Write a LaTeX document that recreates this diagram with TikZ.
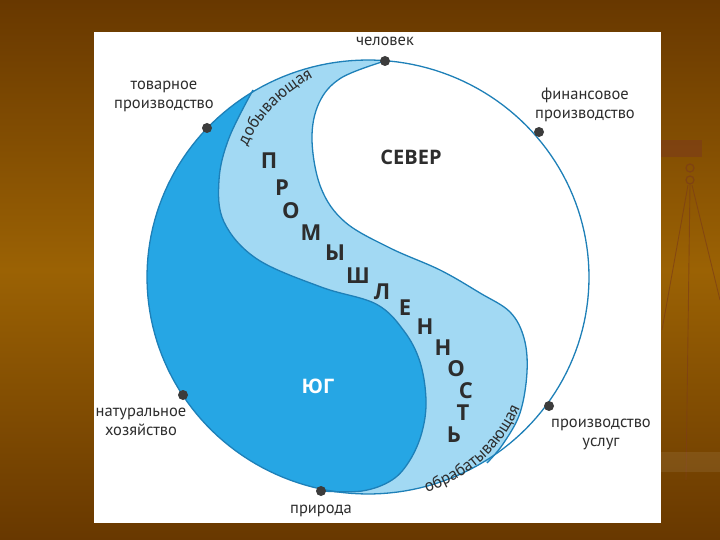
\documentclass[tikz,border=0pt]{standalone}
\usepackage{fontspec}
\setmainfont{PT Sans}
\newfontfamily\boldfam{Open Sans}
\usetikzlibrary{decorations.text}
\definecolor{bgtop}{RGB}{104,56,0}
\definecolor{bgmid}{RGB}{155,98,4}
\definecolor{darkb}{RGB}{38,166,228}
\definecolor{lightb}{RGB}{162,217,243}
\definecolor{linec}{RGB}{30,128,184}
\definecolor{dotc}{RGB}{60,60,60}
\definecolor{textc}{RGB}{45,45,45}
\definecolor{scalec}{RGB}{125,62,22}
\newcommand{\labfont}{\fontsize{16.5}{19}\selectfont}
\newcommand{\curvfont}{\fontsize{17}{17}\selectfont}
\newcommand{\bigletfont}{\boldfam\fontsize{22}{22}\selectfont\bfseries}
\begin{document}
\begin{tikzpicture}[x=1pt,y=-1pt,
  outline/.style={draw=linec,line width=1.3pt},
  pointdot/.style={fill=dotc},
  lab/.style={font=\labfont,text=textc,align=center,inner sep=0pt},
  biglet/.style={font=\bigletfont,text=textc,inner sep=0pt},
  region/.style={font=\boldfam\fontsize{20}{20}\selectfont\bfseries,inner sep=0pt}]
\useasboundingbox (0,0) rectangle (720,540);
% background
\shade[top color=bgtop,bottom color=bgtop,middle color=bgmid] (0,0) rectangle (720,540);
% faint balance scale on the right
\fill[scalec,opacity=0.7] (660,140) rectangle (702,157);
\draw[scalec,line width=1.2pt,opacity=0.8] (690,168) circle[radius=4] (690,180) circle[radius=4];
\draw[scalec,line width=0.9pt,opacity=0.7] (688,185) -- (662,330) (692,185) -- (720,300) (690,185) -- (686,480);
\fill[white,opacity=0.08] (661,452) rectangle (720,472);
% white sheet
\fill[white] (94,32) rectangle (661,523);
% light blue band (whole left part, dark drawn over it)
\fill[lightb] plot[domain=-85.6:-302,samples=120,variable=\t] ({368+221*cos(\t)},{277+217*sin(\t)})
  -- plot[smooth,tension=0.6] coordinates {(487,463) (503,444) (520,413) (527,372) (524,338) (510,312) (480,293) (440,270) (390,248) (345,222) (321,188) (312,140) (319,103) (341,78) (385,61)} -- cycle;
% dark blue region
\fill[darkb] plot[domain=-121:-257.7,samples=100,variable=\t] ({368+221*cos(\t)},{277+217*sin(\t)})
  -- plot[smooth,tension=0.6] coordinates {(321,491) (362,491) (392,480) (410,460) (422,432) (426,400) (420,362) (404,331) (376,304) (321,287) (257,259) (224,222) (219,180) (229,138) (253,90)} -- cycle;
% outlines
\draw[outline] plot[domain=0:360,samples=180,variable=\t] ({368+221*cos(\t)},{277+217*sin(\t)}) -- cycle;
\draw[outline] plot[smooth,tension=0.6] coordinates {(321,491) (362,491) (392,480) (410,460) (422,432) (426,400) (420,362) (404,331) (376,304) (321,287) (257,259) (224,222) (219,180) (229,138) (253,90)};
\draw[outline] plot[smooth,tension=0.6] coordinates {(487,463) (503,444) (520,413) (527,372) (524,338) (510,312) (480,293) (440,270) (390,248) (345,222) (321,188) (312,140) (319,103) (341,78) (385,61)};
% points on the circle
\fill[pointdot] (385,61) circle[radius=5];
\fill[pointdot] (207,128) circle[radius=5];
\fill[pointdot] (539,132) circle[radius=5];
\fill[pointdot] (549,406) circle[radius=5];
\fill[pointdot] (183,395) circle[radius=5];
\fill[pointdot] (321,491) circle[radius=5];
% labels
\node[lab] (chel) at (385,41) {человек};
\node[lab] (tov) at (164,96) {товарное\\производство};
\node[lab] (fin) at (585,105) {финансовое\\производство};
\node[lab] (nat) at (141,422) {натуральное\\хозяйство};
\node[lab] (usl) at (601,434) {производство\\услуг};
\node[lab] (prir) at (321,511) {природа};
\node[region,text=textc] (sever) at (411,157) {СЕВЕР};
\node[region,text=white] (yug) at (318,386) {ЮГ};
% vertical word
\node[biglet] (l1) at (269,161) {П};
\node[biglet] (l2) at (282,188) {Р};
\node[biglet] (l3) at (291,211) {О};
\node[biglet] (l4) at (311,233) {М};
\node[biglet] (l5) at (335,253) {Ы};
\node[biglet] (l6) at (358,276) {Ш};
\node[biglet] (l7) at (382,292) {Л};
\node[biglet] (l8) at (405,308) {Е};
\node[biglet] (l9) at (425,327) {Н};
\node[biglet] (l10) at (443,348) {Н};
\node[biglet] (l11) at (456,369) {О};
\node[biglet] (l12) at (466,391) {С};
\node[biglet] (l13) at (463,413) {Т};
\node[biglet] (l14) at (454,435) {Ь};
% curved labels
\path[decorate,decoration={text along path,text align=center,text color=textc,
  text={|\curvfont|добывающая}}]
  (242,162) .. controls (252,124) and (280,92) .. (328,70);
\path[decorate,decoration={text along path,text align=center,text color=textc,
  text={|\curvfont|обрабатывающая}}]
  (408,497) .. controls (462,486) and (506,452) .. (527,390);
\end{tikzpicture}
\end{document}
